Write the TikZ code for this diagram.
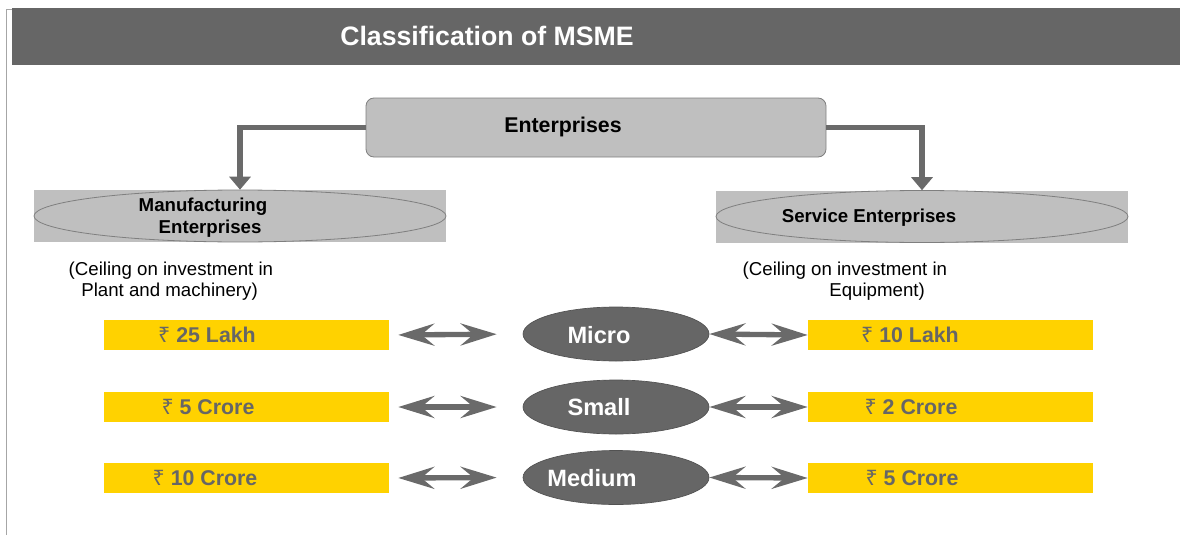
\documentclass[tikz,border=0pt]{standalone}
\usepackage{fontspec}
\setmainfont{Liberation Sans}
\newfontfamily\rupeefont{Noto Sans}
\usetikzlibrary{arrows.meta,shapes.geometric}

\definecolor{hdrgray}{HTML}{666666}
\definecolor{boxgray}{HTML}{BFBFBF}
\definecolor{edgegray}{HTML}{7F7F7F}
\definecolor{gold}{HTML}{FFD200}
\definecolor{darkgray}{HTML}{666666}
\definecolor{arrgray}{HTML}{6A6A6A}

\newcommand{\rs}{{\rupeefont\bfseries ₹}}

\begin{document}
\begin{tikzpicture}[x=0.75pt,y=-0.75pt,
  hdrbox/.style={fill=hdrgray, draw=none, inner sep=0,
    minimum width=876pt, minimum height=42.75pt},
  titletxt/.style={text=white, font=\fontsize{20}{24}\selectfont\bfseries},
  entbox/.style={fill=boxgray, draw=edgegray, line width=0.6pt, rounded corners=6pt,
    inner sep=0, minimum width=345pt, minimum height=44.25pt},
  enttxt/.style={font=\fontsize{16}{19}\selectfont\bfseries},
  catback/.style={fill=boxgray, draw=none, inner sep=0,
    minimum width=309pt, minimum height=39pt},
  catoval/.style={ellipse, draw=edgegray, line width=0.6pt, inner sep=0,
    minimum width=309pt, minimum height=39pt},
  cattxt/.style={font=\fontsize{14}{16.5}\selectfont\bfseries, align=left},
  notetxt/.style={font=\fontsize{14}{16}\selectfont, align=left, anchor=west},
  valbox/.style={fill=gold, draw=none, inner sep=0,
    minimum width=213.75pt, minimum height=22.5pt},
  valtxt/.style={text=darkgray, font=\fontsize{16}{19}\selectfont\bfseries},
  sizeoval/.style={ellipse, fill=hdrgray, draw=hdrgray!80!black, line width=0.5pt,
    inner sep=0, minimum width=139.5pt, minimum height=40.5pt},
  sizetxt/.style={text=white, font=\fontsize{17.7}{21}\selectfont\bfseries},
  elbow/.style={draw=arrgray, line width=4.3pt,
    -{Triangle[length=9.75pt, width=15.75pt]}},
  dbl/.style={draw=arrgray, line width=4pt,
    {Stealth[length=27pt, width=16.5pt, inset=9.75pt]}-{Stealth[length=27pt, width=16.5pt, inset=9.75pt]}}
]
\useasboundingbox (0,0) rectangle (1180,535);

% page frame line on the left
\draw[draw=gray!70, line width=0.75pt] (6,535) -- (6,10) -- (12,10);

% title band
\node[hdrbox] (hdr) at (596,37) {};
\node[titletxt] (title) at (487,36) {Classification of MSME};

% top level
\node[entbox] (ent) at (596,127.5) {};
\node[enttxt] (enttext) at (563,127) {Enterprises};

% categories
\node[catback] (mfg) at (240,216) {};
\node[catoval] (mfgoval) at (mfg.center) {};
\node[cattxt, anchor=west] (mfgtxt) at (134,218) {Manufacturing\\\hspace*{15pt}Enterprises};

\node[catback] (svc) at (922,216.5) {};
\node[catoval] (svcoval) at (svc.center) {};
\node[cattxt] (svctxt) at (869,218) {Service Enterprises};

\draw[elbow] (ent.west) -| (mfg.north);
\draw[elbow] (ent.east) -| (svc.north);

% notes
\node[notetxt] (mfgnote) at (64,281) {(Ceiling on investment in\\\hspace*{9.5pt}Plant and machinery)};
\node[notetxt] (svcnote) at (738,281) {(Ceiling on investment in\\\hspace*{65pt}Equipment)};

% size classes
\node[sizeoval] (micro)  at (616,334) {};
\node[sizeoval] (small)  at (616,407) {};
\node[sizeoval] (medium) at (616,477.5) {};
\node[sizetxt] (microtxt)  at (599,335) {Micro};
\node[sizetxt] (smalltxt)  at (599,407) {Small};
\node[sizetxt] (mediumtxt) at (592,478) {Medium};

% manufacturing ceilings
\node[valbox] (m1) at (246.5,335) {};
\node[valbox] (m2) at (246.5,407) {};
\node[valbox] (m3) at (246.5,478) {};
\node[valtxt] (m1t) at (207,335) {\rs\ 25 Lakh};
\node[valtxt] (m2t) at (208,407) {\rs\ 5 Crore};
\node[valtxt] (m3t) at (205,478) {\rs\ 10 Crore};

% service ceilings
\node[valbox] (s1) at (950.5,335) {};
\node[valbox] (s2) at (950.5,407) {};
\node[valbox] (s3) at (950.5,478) {};
\node[valtxt] (s1t) at (910,335) {\rs\ 10 Lakh};
\node[valtxt] (s2t) at (911,407) {\rs\ 2 Crore};
\node[valtxt] (s3t) at (912,478) {\rs\ 5 Crore};

% two-way links
\foreach \m/\c/\s in {m1/micro/s1, m2/small/s2, m3/medium/s3}{
  \draw[dbl, shorten <=6.75pt, shorten >=19.5pt] (\m.east) -- (\c.west);
  \draw[dbl] (\c.east) -- (\s.west);
}
\end{tikzpicture}
\end{document}
